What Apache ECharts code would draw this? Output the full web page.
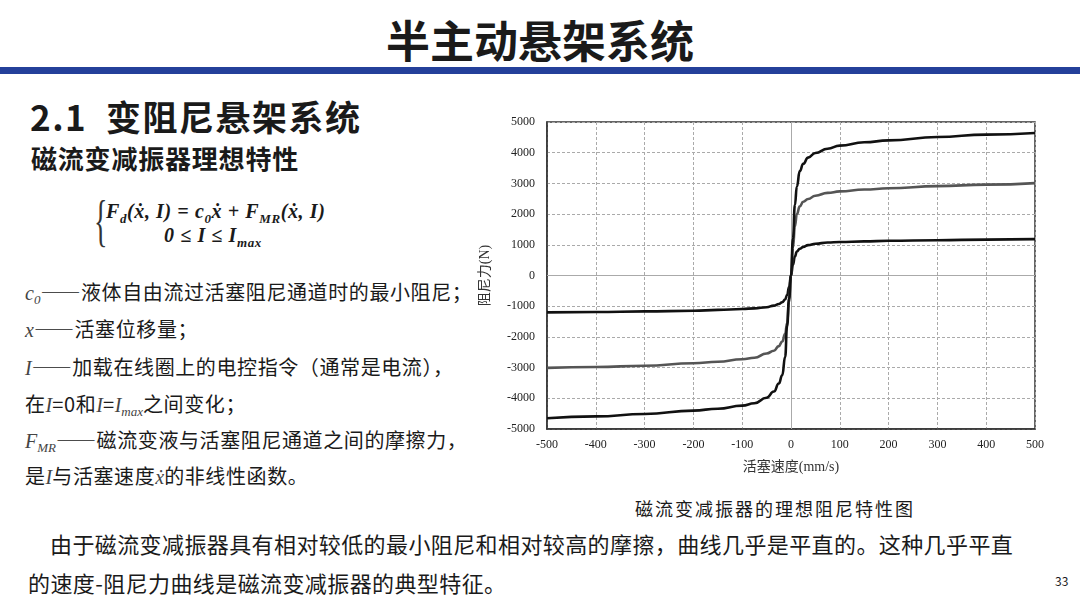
<!DOCTYPE html>
<html lang="zh">
<head>
<meta charset="UTF-8">
<title>半主动悬架系统</title>
<style>
	body{
		margin: 0;
		width: 1080px;
		height: 607px;
		background: #fff;
		position: relative;
		overflow: hidden;
		font-family: "Noto Sans CJK SC", sans-serif;
		color: #1a1a1a;
	}
	.abs{ position: absolute; white-space: nowrap; }
	#title{
		left: 0; width: 1080px; top: 9px;
		text-align: center;
		font-size: 44px; font-weight: bold; line-height: 60px;
	}
	#bar{
		left: 0; top: 67px; width: 1080px; height: 7px;
		background: #24409a;
	}
	#h2{ left: 30px; top: 94px; font-size: 35px; font-weight: bold; line-height: 44px; letter-spacing: 1.5px; }
	#h3{ left: 31px; top: 141px; font-size: 26px; font-weight: bold; line-height: 34px; letter-spacing: 0.8px; }
	.fm{ font-family: "Liberation Serif", serif; font-weight: bold; font-style: italic; font-size: 20px; letter-spacing: 0.6px; }
	.fm sub{ font-size: 13px; }
	.def{ left: 25px; font-size: 20px; line-height: 26px; letter-spacing: 0.6px; }
	.def .v{ font-family: "Liberation Serif", serif; font-style: italic; color: #444; font-size: 20px; letter-spacing: 0; }
	.def sub{ font-size: 13px; vertical-align: -4px; }
	#chart{ left: 470px; top: 100px; width: 600px; height: 390px; }
	#cap{ left: 0; width: 1550px; text-align: center; top: 495px; font-size: 18px; line-height: 26px; letter-spacing: 2px; }
	.para{ font-size: 22px; line-height: 30px; letter-spacing: 0.4px; }
	#pg{ left: 1055px; top: 572px; font-size: 12px; }
</style>
<script src="https://cdn.jsdelivr.net/npm/echarts@6/dist/echarts.min.js"></script>
</head>
<body>

<div class="abs" id="title">半主动悬架系统</div>
<div class="abs" id="bar"></div>
<div class="abs" id="h2">2.1&nbsp; 变阻尼悬架系统</div>
<div class="abs" id="h3">磁流变减振器理想特性</div>

<!-- 公式 -->
<div class="abs" style="left:94px;top:192px;font-family:'Liberation Serif',serif;font-size:56px;line-height:58px;transform:scaleX(0.5);transform-origin:left;color:#333;">{</div>
<div class="abs fm" style="left:106px;top:200px;">F<sub>d</sub>(x&#775;, I) = c<sub>0</sub>x&#775; + F<sub>MR</sub>(x&#775;, I)</div>
<div class="abs fm" style="left:164px;top:224px;">0 ≤ I ≤ I<sub>max</sub></div>

<!-- 符号说明 -->
<div class="abs def" style="top:279px;"><span class="v">c<sub>0</sub></span>——液体自由流过活塞阻尼通道时的最小阻尼；</div>
<div class="abs def" style="top:316px;"><span class="v">x</span>——活塞位移量；</div>
<div class="abs def" style="top:354px;"><span class="v">I</span>——加载在线圈上的电控指令（通常是电流），</div>
<div class="abs def" style="top:391px;">在<span class="v">I</span>=0和<span class="v">I</span>=<span class="v">I<sub>max</sub></span>之间变化；</div>
<div class="abs def" style="top:427px;"><span class="v">F<sub>MR</sub></span>——磁流变液与活塞阻尼通道之间的摩擦力，</div>
<div class="abs def" style="top:463px;">是<span class="v">I</span>与活塞速度<span class="v">x&#775;</span>的非线性函数。</div>

<div class="abs" id="chart"></div>
<div class="abs" id="cap">磁流变减振器的理想阻尼特性图</div>
<div class="abs para" style="left:50px;top:528px;">由于磁流变减振器具有相对较低的最小阻尼和相对较高的摩擦，曲线几乎是平直的。这种几乎平直</div>
<div class="abs para" style="left:28px;top:567px;">的速度-阻尼力曲线是磁流变减振器的典型特征。</div>
<div class="abs" id="pg">33</div>

<script>
	//活塞速度 (mm/s)
	var speed = [-500,-400,-300,-200,-150,-100,-75,-50,-35,-25,-18,-12,-8,-4,0,4,8,12,18,25,35,50,75,100,150,200,300,400,500];
	//大电流 阻尼力 (N)
	var forceHigh = [-4650,-4590,-4510,-4400,-4340,-4240,-4160,-3980,-3780,-3520,-3250,-2650,-1650,-750,0,1200,2300,2900,3400,3640,3840,3990,4130,4230,4340,4400,4510,4590,4640];
	//中电流
	var forceMid = [-3010,-2980,-2940,-2860,-2810,-2730,-2680,-2540,-2450,-2300,-2150,-1900,-1550,-850,0,900,1600,2000,2250,2400,2490,2600,2690,2740,2800,2840,2910,2960,3010];
	//小电流
	var forceLow = [-1200,-1190,-1170,-1150,-1120,-1090,-1070,-1035,-980,-930,-870,-780,-640,-380,0,350,620,780,870,930,990,1035,1075,1090,1110,1130,1150,1170,1185];

	function pairs(ys){
		return speed.map(function(x, i){ return [x, ys[i]]; });
	}

	var myChart = echarts.init(document.getElementById('chart'));

	var labelFont = { fontFamily: 'Liberation Serif', fontSize: 12, color: '#222' };

	function curve(name, ys, color){
		return {
			name: name,
			type: 'line',
			data: pairs(ys),
			smooth: true,
			smoothMonotone: 'x',
			symbol: 'none',
			lineStyle: { color: color, width: 2.6 },
			z: 3
		};
	}

	var series = [
		curve('low', forceLow, '#111'),
		curve('mid', forceMid, '#555'),
		curve('high', forceHigh, '#111')
	];
	//零线
	series[0].markLine = {
		silent: true,
		symbol: 'none',
		label: { show: false },
		lineStyle: { color: '#aaa', type: 'solid', width: 1 },
		data: [{ xAxis: 0 }, { yAxis: 0 }],
		z: 1
	};

	var option = {
		animation: false,
		grid: {
			left: 77, right: 35, top: 22, bottom: 61,
			show: true, borderColor: '#333', borderWidth: 1.5
		},
		xAxis: {
			type: 'value',
			min: -500, max: 500, interval: 100,
			name: '活塞速度(mm/s)',
			nameLocation: 'middle',
			nameGap: 31,
			nameTextStyle: { fontFamily: 'Liberation Serif, Noto Sans CJK SC', fontSize: 14, color: '#333' },
			axisLine: { onZero: false, lineStyle: { color: '#333', width: 1.5 } },
			axisTick: { show: false },
			axisLabel: Object.assign({ margin: 10, formatter: function(v){ return String(v); } }, labelFont),
			splitLine: { lineStyle: { color: '#aaa', type: [3, 2] } }
		},
		yAxis: {
			type: 'value',
			min: -5000, max: 5000, interval: 1000,
			name: '阻尼力(N)',
			nameLocation: 'middle',
			nameRotate: 90,
			nameGap: 55,
			nameTextStyle: { fontFamily: 'Liberation Serif, Noto Sans CJK SC', fontSize: 14, color: '#333' },
			axisLine: { onZero: false, lineStyle: { color: '#333', width: 1.5 } },
			axisTick: { show: false },
			axisLabel: Object.assign({ margin: 12, formatter: function(v){ return String(v); } }, labelFont),
			splitLine: { lineStyle: { color: '#aaa', type: [3, 2] } }
		},
		series: series
	};

	myChart.setOption(option);
</script>
</body>
</html>
